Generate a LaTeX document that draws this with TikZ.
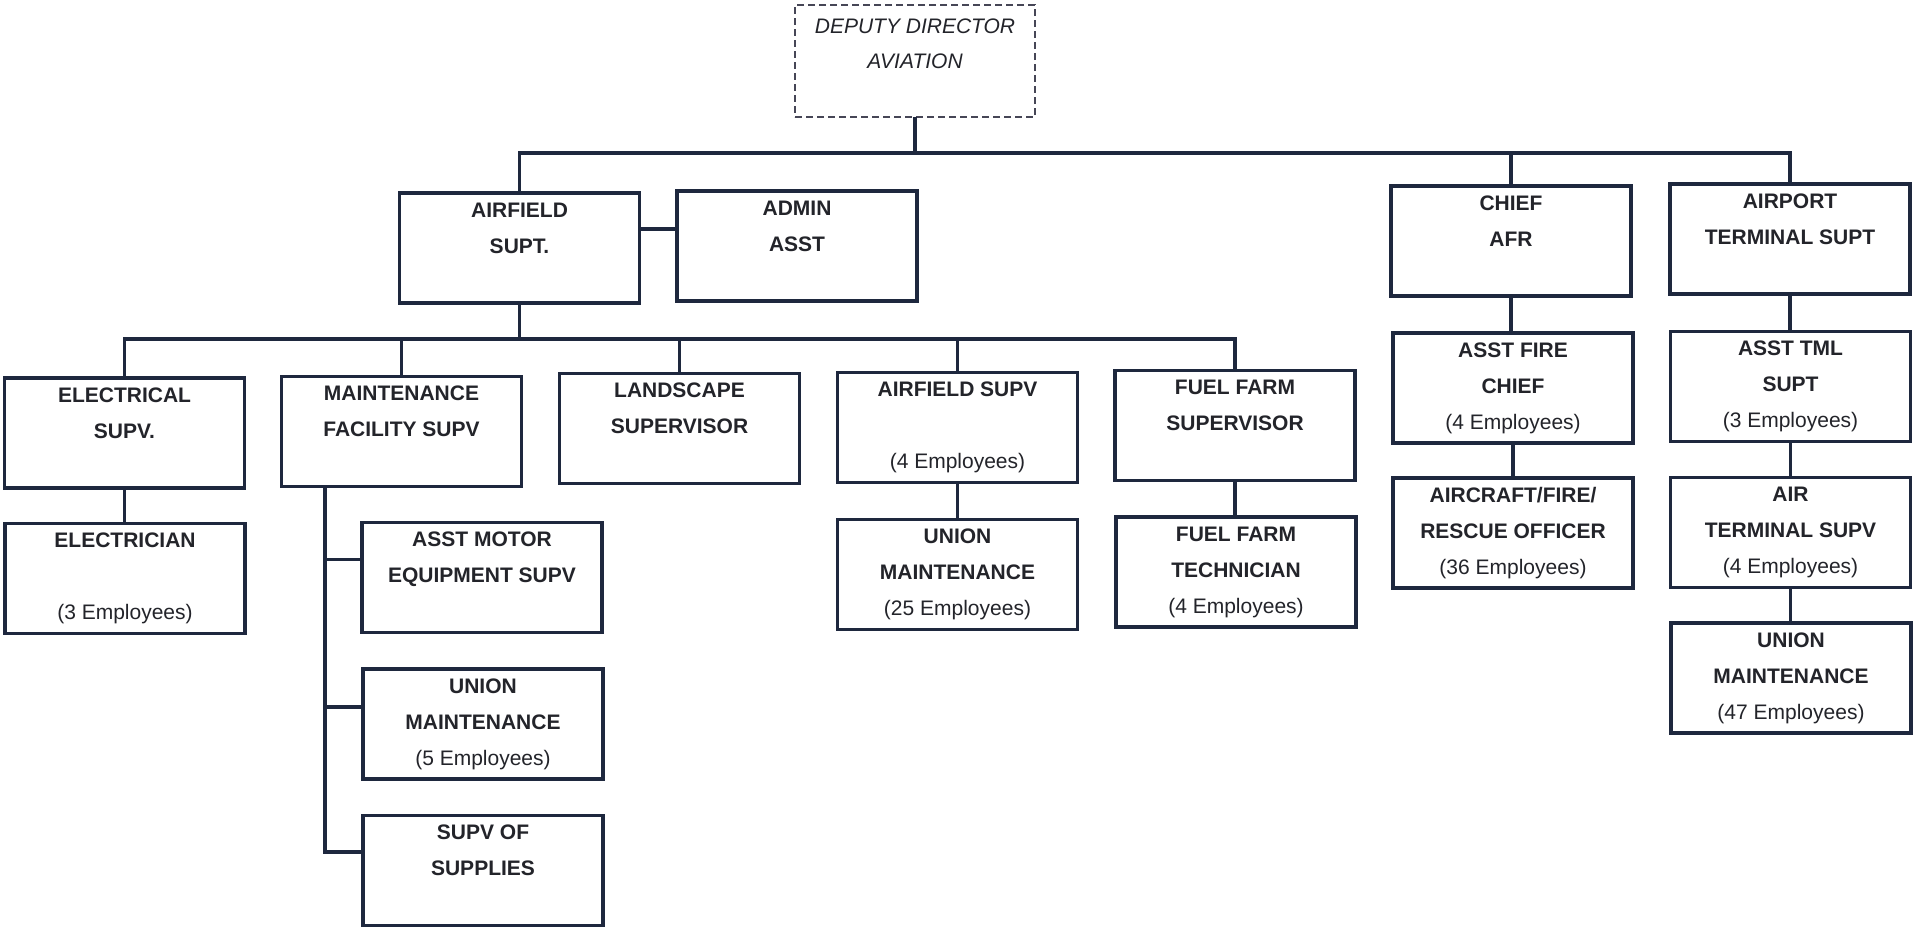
\documentclass[tikz,border=0pt]{standalone}
\usepackage{fontspec}
\setmainfont{Liberation Sans}
\definecolor{ink}{RGB}{30,40,62}
\definecolor{txt}{RGB}{35,36,42}
\definecolor{dash}{RGB}{70,70,86}

% Box text: top-aligned lines on a fixed 36pt pitch
\newcommand\orgtext[1]{\parbox[c][110pt][t]{240pt}{\centering
  \fontsize{21}{36}\selectfont\bfseries\rule{0pt}{24pt}#1}}
\newcommand\emp[1]{{\mdseries #1}}

\tikzset{
  orgbox/.style={draw=ink, line width=3.6pt, inner sep=0pt, outer sep=0pt,
    fill=white, text=txt},
  topbox/.style={draw=dash, line width=1.8pt, dash pattern=on 7pt off 4pt,
    inner sep=0pt, outer sep=0pt, fill=white, text=txt},
  wire/.style={draw=ink, line width=3.4pt},
}

\begin{document}
\begin{tikzpicture}[x=1pt,y=-1pt]
\useasboundingbox (0,0) rectangle (1913,932);
\fill[white] (0,0) rectangle (1913,932);

% top of the chart
\node[topbox] (dep) at (915,61) {\parbox[c][112pt][t]{240pt}{\centering
  \fontsize{21}{35}\selectfont\itshape\rule{0pt}{28pt}DEPUTY DIRECTOR\\AVIATION}};

% second level
\node[orgbox] (afs) at (519.5,248) {\orgtext{AIRFIELD\\SUPT.}};
\node[orgbox] (adm) at (797,246) {\orgtext{ADMIN\\ASST}};
\node[orgbox] (chf) at (1511,241) {\orgtext{CHIEF\\AFR}};
\node[orgbox] (aps) at (1790,239) {\orgtext{AIRPORT\\TERMINAL SUPT}};

% airfield divisions
\node[orgbox] (els) at (124.5,433) {\orgtext{ELECTRICAL\\SUPV.}};
\node[orgbox] (mfs) at (401.5,431.5) {\orgtext{MAINTENANCE\\FACILITY SUPV}};
\node[orgbox] (lsv) at (679.5,428.5) {\orgtext{LANDSCAPE\\SUPERVISOR}};
\node[orgbox] (asv) at (957.5,427.5) {\orgtext{AIRFIELD SUPV\\~\\\emp{(4 Employees)}}};
\node[orgbox] (ffs) at (1235,425.5) {\orgtext{FUEL FARM\\SUPERVISOR}};

% staff under the divisions
\node[orgbox] (elc) at (125,578.5) {\orgtext{ELECTRICIAN\\~\\\emp{(3 Employees)}}};
\node[orgbox] (amc) at (482,577.5) {\orgtext{ASST MOTOR\\EQUIPMENT SUPV}};
\node[orgbox] (um5) at (483,724) {\orgtext{UNION\\MAINTENANCE\\\emp{(5 Employees)}}};
\node[orgbox] (sos) at (483,870.5) {\orgtext{SUPV OF\\SUPPLIES}};
\node[orgbox] (u25) at (957.5,574.5) {\orgtext{UNION\\MAINTENANCE\\\emp{(25 Employees)}}};
\node[orgbox] (fft) at (1236,572) {\orgtext{FUEL FARM\\TECHNICIAN\\\emp{(4 Employees)}}};

% fire rescue column
\node[orgbox] (afc) at (1513,388) {\orgtext{ASST FIRE\\CHIEF\\\emp{(4 Employees)}}};
\node[orgbox] (arf) at (1513,533) {\orgtext{AIRCRAFT/FIRE/\\RESCUE OFFICER\\\emp{(36 Employees)}}};

% terminal column
\node[orgbox] (atm) at (1790.5,386.5) {\orgtext{ASST TML\\SUPT\\\emp{(3 Employees)}}};
\node[orgbox] (ats) at (1790.5,532.5) {\orgtext{AIR\\TERMINAL SUPV\\\emp{(4 Employees)}}};
\node[orgbox] (u47) at (1791,678) {\orgtext{UNION\\MAINTENANCE\\\emp{(47 Employees)}}};

% bus lines
\coordinate (bus1) at (915,153);
\coordinate (bus2) at (519.5,339);

\draw[wire] (dep.south) -- (bus1);
\draw[wire] (afs.north) -- (afs.north |- bus1) -- (aps.north |- bus1) -- (aps.north);
\draw[wire] (chf.north) -- (chf.north |- bus1);

\coordinate (admin) at ([yshift=17pt]adm.west);
\draw[wire] (admin) -- (afs.east |- admin);

\draw[wire] (afs.south) -- (bus2);
\draw[wire] (els.north) -- (els.north |- bus2) -- (ffs.north |- bus2) -- (ffs.north);
\draw[wire] (mfs.north) -- (mfs.north |- bus2);
\draw[wire] (lsv.north) -- (lsv.north |- bus2);
\draw[wire] (asv.north) -- (asv.north |- bus2);

% single reports
\draw[wire] (els.south) -- (els.south |- elc.north);
\draw[wire] (asv.south) -- (asv.south |- u25.north);
\draw[wire] (ffs.south) -- (ffs.south |- fft.north);
\draw[wire] (chf.south) -- (chf.south |- afc.north);
\draw[wire] (afc.south) -- (afc.south |- arf.north);
\draw[wire] (aps.south) -- (aps.south |- atm.north);
\draw[wire] (atm.south) -- (atm.south |- ats.north);
\draw[wire] (ats.south) -- (ats.south |- u47.north);

% maintenance trunk
\coordinate (trunk) at ([xshift=-76.5pt]mfs.south);
\coordinate (amcin) at ([yshift=18pt]amc.west);
\coordinate (um5in) at ([yshift=17pt]um5.west);
\coordinate (sosin) at ([yshift=18.5pt]sos.west);
\draw[wire] (trunk) -- (trunk |- sosin) -- (sosin);
\draw[wire] (amcin) -- (trunk |- amcin);
\draw[wire] (um5in) -- (trunk |- um5in);
\end{tikzpicture}
\end{document}
